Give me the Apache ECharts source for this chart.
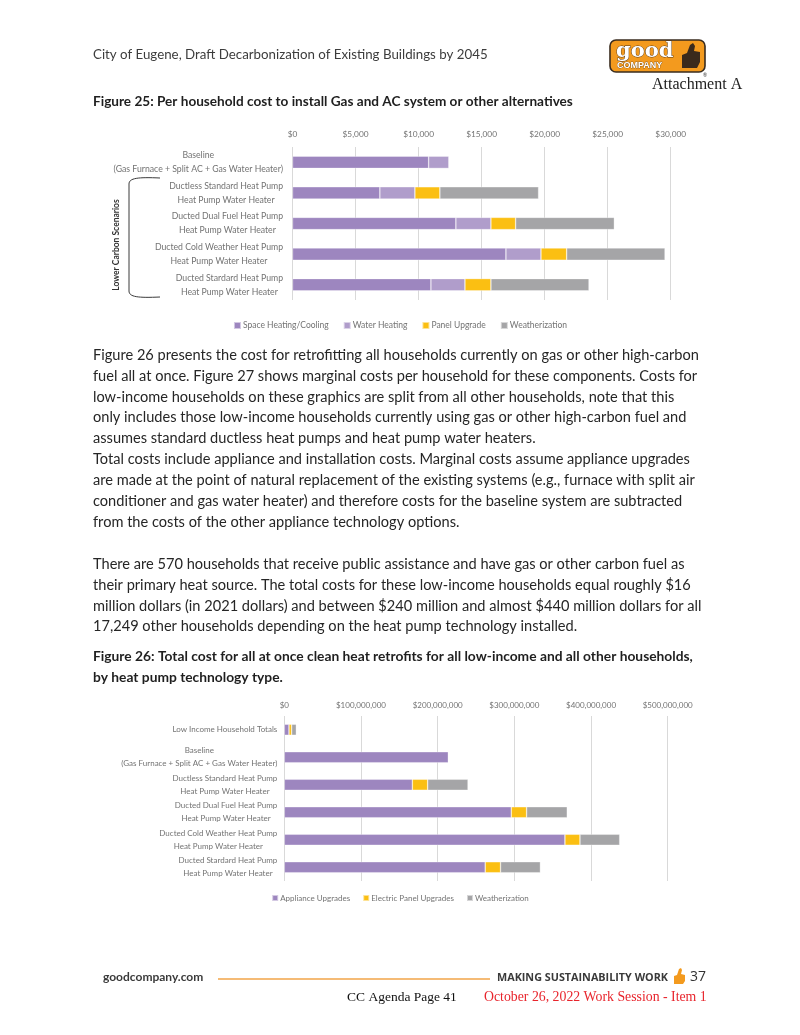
<!DOCTYPE html>
<html><head><meta charset="utf-8">
<script src="https://cdn.jsdelivr.net/npm/echarts@6/dist/echarts.min.js"></script>
<style>html,body{margin:0;padding:0;background:#fff}#c{width:800px;height:1035px}</style>
</head><body><div id="c"></div>
<script>
// ---------- Figure 25 data (per household, $) ----------
const cats1 = [
  'Baseline\n(Gas Furnace + Split AC + Gas Water Heater)',
  'Ductless Standard Heat Pump\nHeat Pump Water Heater',
  'Ducted Dual Fuel Heat Pump\nHeat Pump Water Heater',
  'Ducted Cold Weather Heat Pump\nHeat Pump Water Heater',
  'Ducted Stardard Heat Pump\nHeat Pump Water Heater'
];
const spaceHeating = [10800, 6930, 12960, 16930, 10980];
const waterHeating = [1600, 2780, 2780, 2780, 2700];
const panelUpgrade = [null, 1980, 1960, 2040, 2060];
const weatherization1 = [null, 7830, 7830, 7800, 7780];
const legend1 = ['Space Heating/Cooling', 'Water Heating', 'Panel Upgrade', 'Weatherization'];

// ---------- Figure 26 data (totals, $) ----------
const cats2 = [
  'Low Income Household Totals',
  'Baseline\n(Gas Furnace + Split AC + Gas Water Heater)',
  'Ductless Standard Heat Pump\nHeat Pump Water Heater',
  'Ducted Dual Fuel Heat Pump\nHeat Pump Water Heater',
  'Ducted Cold Weather Heat Pump\nHeat Pump Water Heater',
  'Ducted Stardard Heat Pump\nHeat Pump Water Heater'
];
const applianceUpgrades = [6100000, 213900000, 167000000, 296000000, 366000000, 262000000];
const panelUpgrades2 = [3500000, null, 20000000, 20000000, 19600000, 20000000];
const weatherization2 = [6100000, null, 52600000, 53000000, 51800000, 52000000];
const legend2 = ['Appliance Upgrades', 'Electric Panel Upgrades', 'Weatherization'];

// ---------- page text ----------
const headerText = 'City of Eugene, Draft Decarbonization of Existing Buildings by 2045';
const fig25Title = 'Figure 25: Per household cost to install Gas and AC system or other alternatives';
const bodyLines = [
  'Figure 26 presents the cost for retrofitting all households currently on gas or other high-carbon',
  'fuel all at once. Figure 27 shows marginal costs per household for these components. Costs for',
  'low-income households on these graphics are split from all other households, note that this',
  'only includes those low-income households currently using gas or other high-carbon fuel and',
  'assumes standard ductless heat pumps and heat pump water heaters.',
  'Total costs include appliance and installation costs. Marginal costs assume appliance upgrades',
  'are made at the point of natural replacement of the existing systems (e.g., furnace with split air',
  'conditioner and gas water heater) and therefore costs for the baseline system are subtracted',
  'from the costs of the other appliance technology options.',
  '',
  'There are 570 households that receive public assistance and have gas or other carbon fuel as',
  'their primary heat source. The total costs for these low-income households equal roughly $16',
  'million dollars (in 2021 dollars) and between $240 million and almost $440 million dollars for all',
  '17,249 other households depending on the heat pump technology installed.'
];
const fig26Title = [
  'Figure 26: Total cost for all at once clean heat retrofits for all low-income and all other households,',
  'by heat pump technology type.'
];

const C_SPACE = '#9d86bf', C_WATER = '#b09dcb', C_PANEL = '#fbbf12', C_WEATH = '#a5a5a7';
const LBL = '#737373';
const FONT = 'Lato';

function money(v){ return '$' + Math.round(v).toLocaleString('en-US'); }
function catFmt(v){ return v.split('\n').map(l => '{c|' + l + '}').join('\n'); }
const catLabel = (margin, fs, lh) => ({
  fontSize: fs, color: LBL, fontFamily: FONT, margin: margin, lineHeight: lh,
  formatter: catFmt, rich: { c: { align: 'center', fontSize: fs, color: LBL, fontFamily: FONT, lineHeight: lh } }
});

function barSeries(name, data, color, axisIdx){
  return { type: 'bar', name: name, stack: 's' + axisIdx, data: data, xAxisIndex: axisIdx, yAxisIndex: axisIdx,
    barWidth: '40%', itemStyle: { color: color, borderColor: 'rgba(255,255,255,0.55)', borderWidth: 0.6 },
    emphasis: { disabled: true }, animation: false };
}

const graphics = [];
function txt(x, y, s, style){
  graphics.push({ type: 'text', x: x, y: y, silent: true,
    style: Object.assign({ text: s, fill: '#333', fontFamily: FONT, fontSize: 14, textVerticalAlign: 'middle' }, style) });
}
txt(93, 55, headerText, { fontSize: 13.3, fill: '#3c3c3c' });
txt(93, 102, fig25Title, { fontSize: 13.6, fontWeight: 'bold', fill: '#1f1f1f' });
bodyLines.forEach((l, i) => { if (l) txt(93, 355 + i * 20.9, l, { fontSize: 14.6, fill: '#262626' }); });
fig26Title.forEach((l, i) => txt(93, 657 + i * 21, l, { fontSize: 13.8, fontWeight: 'bold', fill: '#1f1f1f' }));

// logo
graphics.push({ type: 'rect', shape: { x: 610, y: 40, width: 95, height: 32, r: 6 }, silent: true,
  style: { fill: '#f39a1e', stroke: '#3a2c1f', lineWidth: 1.6 } });
txt(616, 52, 'good', { fontFamily: 'DejaVu Serif', fontWeight: 'bold', fontSize: 21, fill: '#fff', stroke: '#4a3520', lineWidth: 0.8 });
txt(617, 66, 'COMPANY', { fontFamily: 'Liberation Sans', fontWeight: 'bold', fontSize: 9, fill: '#fff', stroke: '#4a3520', lineWidth: 0.5 });
graphics.push({ type: 'polygon', silent: true, shape: { points: [[682,68],[682,55],[687,53],[690,45],[693,43],[695,46],[694,51],[700,52],[700,62],[697,68]] },
  style: { fill: '#3a2a1c' } });
txt(703, 75, '®', { fontSize: 5, fill: '#333' });
txt(652, 85, 'Attachment A', { fontFamily: 'Liberation Serif', fontSize: 16, fill: '#222' });

// brace + rotated label
const braceStyle = { fill: null, stroke: '#3a3a3a', lineWidth: 1 };
graphics.push({ type: 'bezierCurve', silent: true, shape: { x1: 160, y1: 178, x2: 129, y2: 184, cpx1: 138, cpy1: 177, cpx2: 129, cpy2: 178 }, style: braceStyle });
graphics.push({ type: 'line', silent: true, shape: { x1: 129, y1: 184, x2: 129, y2: 291 }, style: braceStyle });
graphics.push({ type: 'bezierCurve', silent: true, shape: { x1: 129, y1: 291, x2: 160, y2: 297, cpx1: 129, cpy1: 297, cpx2: 138, cpy2: 298 }, style: braceStyle });
graphics.push({ type: 'text', x: 116, y: 245, rotation: Math.PI / 2, silent: true,
  style: { text: 'Lower Carbon Scenarios', fontFamily: FONT, fontWeight: 'bold', fontSize: 8.5, fill: '#333',
    textAlign: 'center', textVerticalAlign: 'middle' } });

// footer
txt(103, 977, 'goodcompany.com', { fontSize: 12, fontWeight: 'bold', fill: '#3a3a3a' });
graphics.push({ type: 'line', silent: true, shape: { x1: 218, y1: 979, x2: 490, y2: 979 }, style: { stroke: '#f2a548', lineWidth: 1.5 } });
txt(497, 978, 'MAKING SUSTAINABILITY WORK', { fontSize: 10.8, fontWeight: 'bold', fill: '#3a3a3a', fontFamily: 'Open Sans' });
graphics.push({ type: 'polygon', silent: true, shape: { points: [[674,984],[674,976],[677,975],[679,969],[681,968],[682,970],[681,974],[685,975],[685,981],[683,984]] },
  style: { fill: '#f39a1e' } });
txt(690, 977, '37', { fontSize: 14, fill: '#333', fontFamily: 'Open Sans' });
txt(347, 997, 'CC Agenda Page 41', { fontFamily: 'Liberation Serif', fontSize: 13.5, fill: '#111' });
txt(484, 997, 'October 26, 2022 Work Session - Item 1', { fontFamily: 'Liberation Serif', fontSize: 13.8, fill: '#e8242c' });

const chart = echarts.init(document.getElementById('c'), null, { renderer: 'canvas' });
chart.setOption({
  backgroundColor: '#fff',
  animation: false,
  grid: [
    { left: 292.5, right: 129.3, top: 147, height: 153 },
    { left: 284.3, right: 132.3, top: 716, height: 165 }
  ],
  xAxis: [
    { gridIndex: 0, type: 'value', position: 'top', min: 0, max: 30000, interval: 5000,
      axisLine: { show: false }, axisTick: { show: false },
      splitLine: { lineStyle: { color: '#d9d9d9', width: 1 } },
      axisLabel: { fontSize: 8.3, color: LBL, fontFamily: FONT, margin: 9, formatter: money } },
    { gridIndex: 1, type: 'value', position: 'top', min: 0, max: 500000000, interval: 100000000,
      axisLine: { show: false }, axisTick: { show: false },
      splitLine: { lineStyle: { color: '#d9d9d9', width: 1 } },
      axisLabel: { fontSize: 8, color: LBL, fontFamily: FONT, margin: 7, formatter: money } }
  ],
  yAxis: [
    { gridIndex: 0, type: 'category', data: cats1, inverse: true,
      axisLine: { show: false }, axisTick: { show: false }, axisLabel: catLabel(9.5, 8.7, 14) },
    { gridIndex: 1, type: 'category', data: cats2, inverse: true,
      axisLine: { show: false }, axisTick: { show: false }, axisLabel: catLabel(7, 8, 13) }
  ],
  legend: [
    { data: legend1, left: 'center', top: 316, icon: 'rect', itemWidth: 7, itemHeight: 7, itemGap: 14,
      textStyle: { fontSize: 8.5, color: LBL, fontFamily: FONT, padding: [0, 0, 0, -3] }, selectedMode: false },
    { data: legend2, left: 'center', top: 889, icon: 'rect', itemWidth: 6, itemHeight: 6, itemGap: 12,
      textStyle: { fontSize: 8, color: LBL, fontFamily: FONT, padding: [0, 0, 0, -3] }, selectedMode: false }
  ],
  series: [
    barSeries('Space Heating/Cooling', spaceHeating, C_SPACE, 0),
    barSeries('Water Heating', waterHeating, C_WATER, 0),
    barSeries('Panel Upgrade', panelUpgrade, C_PANEL, 0),
    barSeries('Weatherization', weatherization1, C_WEATH, 0),
    barSeries('Appliance Upgrades', applianceUpgrades, C_SPACE, 1),
    barSeries('Electric Panel Upgrades', panelUpgrades2, C_PANEL, 1),
    barSeries('Weatherization', weatherization2, C_WEATH, 1)
  ],
  graphic: graphics
});
</script></body></html>
